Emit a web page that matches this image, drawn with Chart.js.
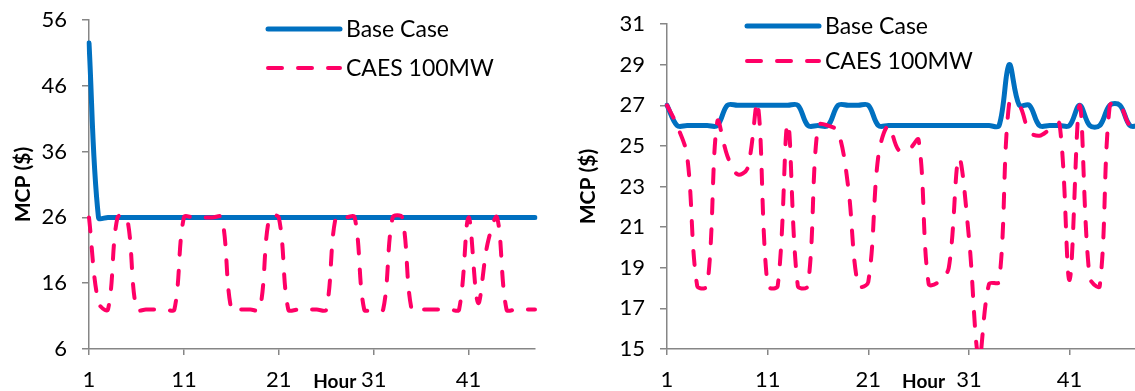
<!DOCTYPE html>
<html>
<head>
<meta charset="utf-8">
<script src="https://cdn.jsdelivr.net/npm/chart.js@4.4.1/dist/chart.umd.min.js"></script>
<style>
  html, body { margin: 0; padding: 0; background: #fff; overflow: hidden; }
  #wrap { position: relative; width: 1135px; height: 391px; overflow: hidden; }
  canvas { position: absolute; top: 0; }
</style>
</head>
<body>
<div id="wrap">
  <canvas id="chartLeft" width="560" height="391" style="left:0"></canvas>
  <canvas id="chartRight" width="600" height="391" style="left:565px"></canvas>
</div>
<script>
// MCP per hour, base case vs. CAES 100MW
const hours = [1,2,3,4,5,6,7,8,9,10,11,12,13,14,15,16,17,18,19,20,21,22,23,24,25,26,27,28,29,30,31,32,33,34,35,36,37,38,39,40,41,42,43,44,45,46,47,48];

const leftBase = [52.5,26,26,26,26,26,26,26,26,26,26,26,26,26,26,26,26,26,26,26,26,26,26,26,26,26,26,26,26,26,26,26,26,26,26,26,26,26,26,26,26,26,26,26,26,26,26,26];
const leftCaes = [26,13,12,26,26,12,12,12,12,12,26,26,26,26,26,12,12,12,12,26,26,12,12,12,12,12,26,26,26,12,12,12,26,26,12,12,12,12,12,12,26,13,22,26,12,12,12,12];

const rightBase = [27,26,26,26,26,26,27,27,27,27,27,27,27,27,26,26,26,27,27,27,27,26,26,26,26,26,26,26,26,26,26,26,26,26,29,27,27,26,26,26,26,27,26,26,27,27,26,26];
const rightCaes = [27,26,24.5,18.1,18.1,26.2,24.5,23.6,23.9,27.1,18.1,18.1,26.1,18.1,18.1,26,26,25.7,23,18.1,18.3,24.5,26,24.8,24.8,25.3,18.2,18.3,19,24.4,20.5,14.5,18.2,18.3,27.1,27,25.7,25.5,25.8,26.1,18.4,27,18.5,18.1,27,27,26,26];

const leftTicks = {min: 6, max: 56, step: 10};
const rightTicks = {min: 15, max: 31, step: 2};

const AXIS = '#868686';
const BLUE = '#0070C0';
const PINK = '#FF0066';
const FONT = 'Lato';

// legend drawn inside the plot area
const inPlotLegend = {
    id: 'inPlotLegend',
    afterDatasetsDraw(chart, args, o) {
        const {ctx, chartArea} = chart;
        ctx.save();
        ctx.font = o.size + 'px ' + FONT;
        ctx.textBaseline = 'middle';
        chart.data.datasets.forEach((ds, i) => {
            const x = chartArea.left + o.dx, y = chartArea.top + o.dy + i * o.rowGap;
            ctx.beginPath();
            ctx.setLineDash(ds.borderDash || []);
            ctx.lineCap = 'round';
            ctx.lineWidth = ds.borderWidth;
            ctx.strokeStyle = ds.borderColor;
            ctx.moveTo(x, y);
            ctx.lineTo(x + o.len, y);
            ctx.stroke();
            ctx.setLineDash([]);
            ctx.fillStyle = '#000';
            ctx.fillText(ds.label, x + o.len + o.textGap, y + 1);
        });
        ctx.restore();
    }
};

// x-axis title sits in the tick label row, like the original
const hourTitle = {
    id: 'hourTitle',
    afterDraw(chart, args, o) {
        const {ctx} = chart;
        const x = chart.scales.x.getPixelForValue(o.at);
        ctx.save();
        ctx.font = 'bold 19px ' + FONT;
        ctx.fillStyle = '#000';
        ctx.textAlign = 'center';
        ctx.textBaseline = 'alphabetic';
        ctx.fillText('Hour', x, chart.chartArea.bottom + o.dy);
        ctx.restore();
    }
};

function makeChart(id, base, caes, yt, o) {
    const tickFont = {family: FONT, size: o.tickSize};
    return new Chart(document.getElementById(id), {
        type: 'line',
        data: {
            labels: hours,
            datasets: [
                {label: 'Base Case', data: base, borderColor: BLUE, borderWidth: 5, pointRadius: 0, tension: 0.35, order: 2, borderJoinStyle: 'round', borderCapStyle: 'round'},
                {label: 'CAES 100MW', data: caes, borderColor: PINK, borderWidth: 4, borderDash: [14, 16], borderCapStyle: 'round', borderJoinStyle: 'round', pointRadius: 0, tension: 0.35, order: 1}
            ]
        },
        options: {
            responsive: false,
            animation: false,
            layout: {padding: {top: o.top, right: o.right, bottom: 0, left: 0}},
            plugins: {
                legend: {display: false},
                tooltip: {enabled: false},
                inPlotLegend: o.legend,
                hourTitle: {at: o.hourAt, dy: 39}
            },
            scales: {
                x: {
                    type: 'category',
                    offset: false,
                    grid: {display: true, drawOnChartArea: false, drawTicks: true, tickLength: 6, lineWidth: 1.5,
                        color: c => c.index % 10 === 0 ? AXIS : 'rgba(0,0,0,0)'},
                    border: {display: true, color: AXIS, width: 1.5},
                    ticks: {autoSkip: false, maxRotation: 0, padding: 12, color: '#000', font: tickFont,
                        callback: (v, i) => i % 10 === 0 ? String(hours[i]) : ''},
                    afterFit: s => { s.height = 391 - o.bottom; s.paddingLeft = 0; s.paddingRight = 0; }
                },
                y: {
                    min: yt.min, max: yt.max,
                    grid: {display: true, drawOnChartArea: false, drawTicks: true, tickLength: 7, lineWidth: 1.5, color: AXIS},
                    border: {display: true, color: AXIS, width: 1.5},
                    ticks: {stepSize: yt.step, padding: 15, color: '#000', font: tickFont},
                    title: {display: true, text: 'MCP ($)', color: '#000', font: {family: FONT, size: 21, weight: 'bold'}, padding: {top: 11, bottom: 0}},
                    afterFit: s => { s.width = o.yWidth; s.paddingTop = 0; s.paddingBottom = 0; }
                }
            }
        },
        plugins: [inPlotLegend, hourTitle]
    });
}

makeChart('chartLeft', leftBase, leftCaes, leftTicks, {
    top: 20, right: 25, bottom: 349, yWidth: 89, tickSize: 22, hourAt: 25.9,
    legend: {dx: 179, dy: 9, rowGap: 39, len: 72, textGap: 6, size: 23}
});
makeChart('chartRight', rightBase, rightCaes, rightTicks, {
    top: 24, right: 25, bottom: 349, yWidth: 102, tickSize: 22, hourAt: 25.5,
    legend: {dx: 80, dy: 2, rowGap: 35, len: 72, textGap: 6, size: 23}
});
</script>
</body>
</html>
